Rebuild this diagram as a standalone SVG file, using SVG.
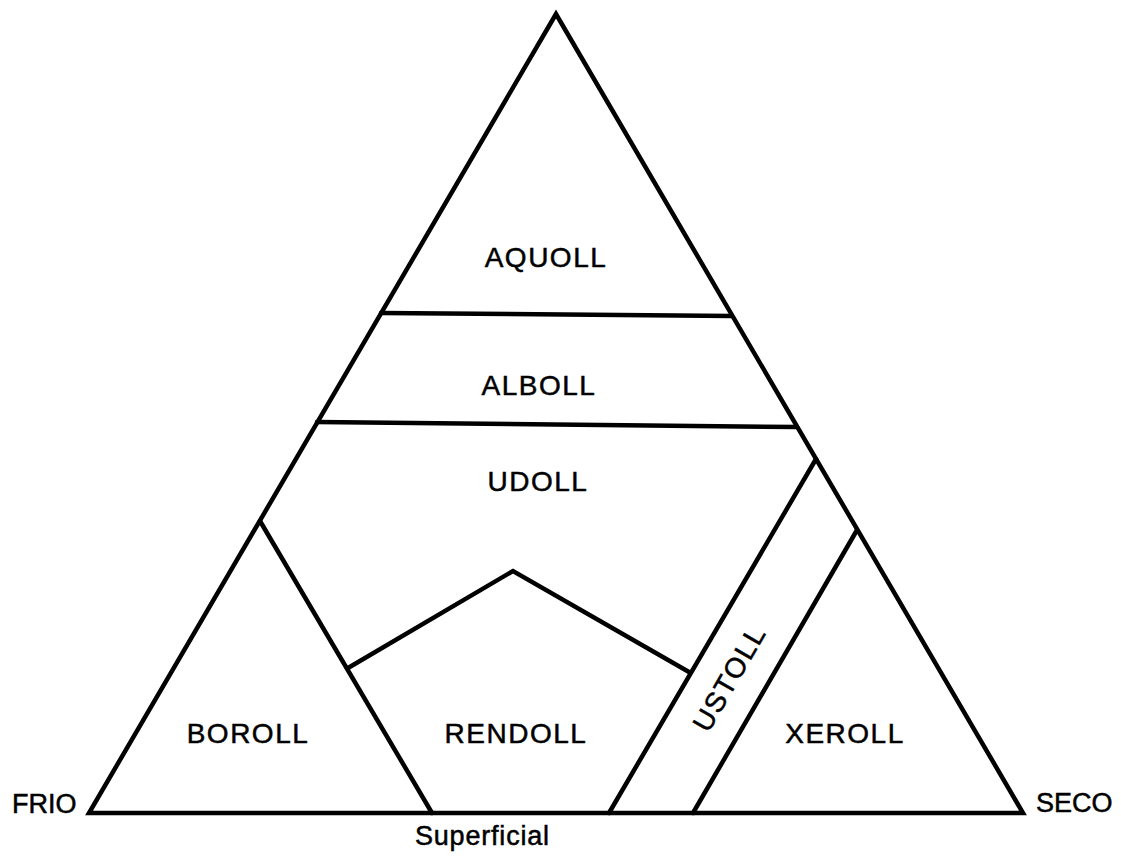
<svg xmlns="http://www.w3.org/2000/svg" width="1121" height="860" viewBox="0 0 1121 860">
<style>
.ln{fill:none;stroke:#000;stroke-width:4.5;stroke-linejoin:miter;stroke-linecap:round}
.lb{font-family:"Liberation Sans",Arial,sans-serif;font-size:28px;fill:#000;stroke:#000;stroke-width:0.5;letter-spacing:1.5px;text-anchor:middle}
.ax{font-family:"Liberation Sans",Arial,sans-serif;font-size:27px;fill:#000;stroke:#000;stroke-width:0.5}
</style>
<rect width="1121" height="860" fill="#fff"/>
<g id="connectors">
<polygon class="ln" points="556,14 89,813 1023,813"/>
<line class="ln" x1="381" y1="313" x2="732" y2="316"/>
<line class="ln" x1="317" y1="422" x2="797" y2="427"/>
<line class="ln" x1="260" y1="521" x2="432" y2="813"/>
<polyline class="ln" points="348,668 513,571 689,672"/>
<line class="ln" x1="816" y1="459" x2="609" y2="813"/>
<line class="ln" x1="857" y1="530" x2="693" y2="813"/>
</g>
<g id="aquoll"><text class="lb" x="546" y="267">AQUOLL</text></g>
<g id="alboll"><text class="lb" x="539" y="395">ALBOLL</text></g>
<g id="udoll"><text class="lb" x="538" y="491">UDOLL</text></g>
<g id="boroll"><text class="lb" x="248" y="743">BOROLL</text></g>
<g id="rendoll"><text class="lb" x="516" y="743">RENDOLL</text></g>
<g id="ustoll"><text class="lb" transform="translate(729,678) rotate(-60)" x="0" y="10">USTOLL</text></g>
<g id="xeroll"><text class="lb" x="845" y="743">XEROLL</text></g>
<g id="frio"><text class="ax" x="12" y="813">FRIO</text></g>
<g id="seco"><text class="ax" x="1036" y="812">SECO</text></g>
<g id="superficial"><text class="ax" x="415" y="845" letter-spacing="0.8">Superficial</text></g>
</svg>
